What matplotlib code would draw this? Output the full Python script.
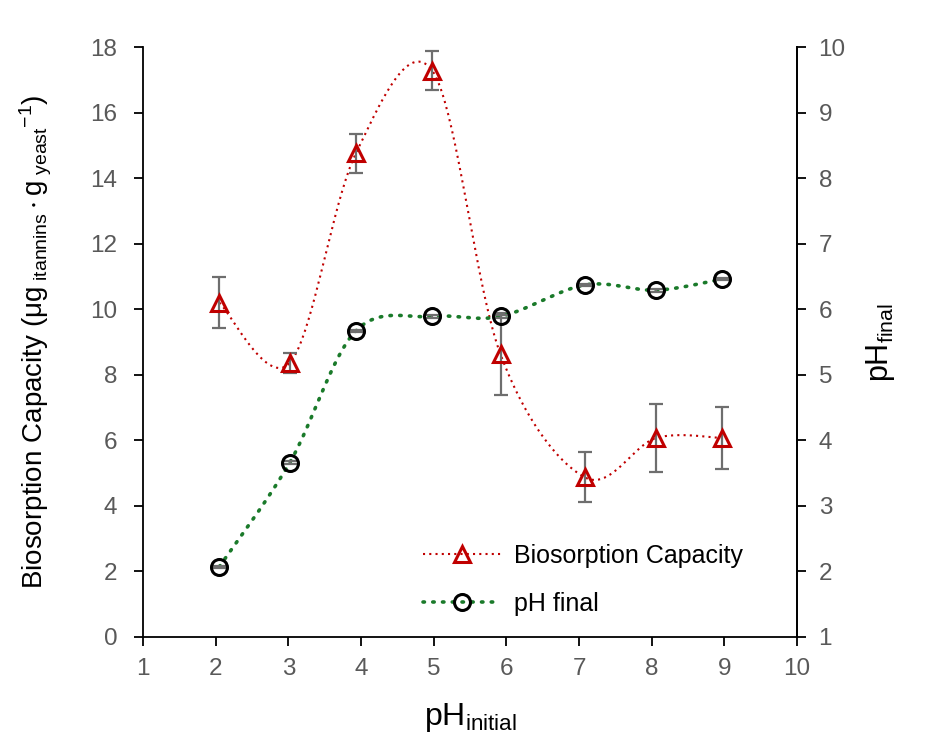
import numpy as np
import matplotlib
matplotlib.use("Agg")
import matplotlib.pyplot as plt
from matplotlib.lines import Line2D

plt.rcParams['font.family'] = ['Liberation Sans', 'DejaVu Sans']
plt.rcParams['mathtext.fontset'] = 'custom'
plt.rcParams['mathtext.rm'] = 'Liberation Sans'
plt.rcParams['mathtext.it'] = 'Liberation Sans'

# data
ph_initial = [2.05, 3.02, 3.93, 4.98, 5.92, 7.08, 8.06, 8.97]
biosorption = [10.2, 8.36, 14.76, 17.28, 8.62, 4.87, 6.07, 6.07]
biosorption_err = [0.77, 0.3, 0.6, 0.6, 1.25, 0.76, 1.05, 0.96]
ph_final = [2.07, 3.66, 5.67, 5.89, 5.89, 6.37, 6.29, 6.46]
ph_final_err = [0.02, 0.02, 0.02, 0.02, 0.02, 0.02, 0.02, 0.02]

red = '#C00000'
green = '#1A7A2A'
grey = '#6E6E6E'
tick_grey = '#595959'


# smooth line like the spreadsheet one (Catmull-Rom as Bezier segments)
def smooth(xs, ys, n=40):
    p = np.column_stack([xs, ys]).astype(float)
    p = np.vstack([p[0], p, p[-1]])
    out = []
    t = np.linspace(0, 1, n)[:, None]
    for i in range(1, len(p) - 2):
        p0, p3 = p[i], p[i + 1]
        b1 = p0 + (p[i + 1] - p[i - 1]) / 6
        b2 = p3 - (p[i + 2] - p[i]) / 6
        seg = ((1 - t) ** 3 * p0 + 3 * (1 - t) ** 2 * t * b1
               + 3 * (1 - t) * t ** 2 * b2 + t ** 3 * p3)
        out.append(seg if i == 1 else seg[1:])
    out = np.vstack(out)
    return out[:, 0], out[:, 1]


fig = plt.figure(figsize=(9.32, 7.38), dpi=100)
ax = fig.add_axes([0.1534, 0.1369, 0.7018, 0.7994])
ax2 = ax.twinx()

red_ls = (0, (1, 2))
green_ls = (0, (0.4, 2.3))
tri_ms, circ_ms, mew = 12, 11.5, 2.2

sx, sy = smooth(ph_initial, biosorption)
ax.plot(sx, sy, color=red, lw=1.5, ls=red_ls, zorder=2)
ax.errorbar(ph_initial, biosorption, yerr=biosorption_err, fmt='none',
            ecolor=grey, elinewidth=1.6, capsize=4.8, capthick=1.6, zorder=3)
ax.plot(ph_initial, biosorption, ls='none', marker='^', ms=tri_ms,
        mfc='none', mec=red, mew=mew, zorder=4)

gx, gy = smooth(ph_initial, ph_final)
ax2.plot(gx, gy, color=green, lw=2.6, ls=green_ls,
         dash_capstyle='round', zorder=2)
ax2.errorbar(ph_initial, ph_final, yerr=ph_final_err, fmt='none',
             ecolor=grey, elinewidth=1.6, capsize=4.8, capthick=1.6, zorder=3)
ax2.plot(ph_initial, ph_final, ls='none', marker='o', ms=circ_ms,
         mfc='none', mec='black', mew=mew, zorder=4)

ax.set_xlim(1, 10)
ax.set_ylim(0, 18)
ax2.set_ylim(1, 10)
ax.set_xticks(range(1, 11))
ax.set_yticks(range(0, 19, 2))
ax2.set_yticks(range(1, 11))

for a in (ax, ax2):
    a.spines['top'].set_visible(False)
    for s in a.spines.values():
        s.set_linewidth(1.3)
    a.tick_params(direction='out', length=6.5, width=1.3,
                  labelsize=17.5, labelcolor=tick_grey, pad=12)
ax.tick_params(axis='x', pad=9)
ax2.tick_params(axis='y', pad=9)
ax2.spines['left'].set_visible(False)
ax2.spines['bottom'].set_visible(False)

ax.set_xlabel(r'pH$_{\mathregular{initial}}$', fontsize=23, labelpad=15)
ax.set_ylabel(r'Biosorption Capacity ($\mathregular{\mu g_{\ itannins}\cdot g_{\ yeast}{}^{-1}}$)',
              fontsize=20, labelpad=26)
ax2.set_ylabel(r'pH$_{\mathregular{final}}$', fontsize=22, labelpad=13)

handles = [
    Line2D([], [], color=red, lw=1.5, ls=red_ls, marker='^', ms=tri_ms,
           mfc='none', mec=red, mew=mew),
    Line2D([], [], color=green, lw=2.6, ls=green_ls, dash_capstyle='round',
           marker='o', ms=circ_ms, mfc='none', mec='black', mew=mew),
]
fig.legend(handles, ['Biosorption Capacity', 'pH final'],
           loc='center left', bbox_to_anchor=(0.4539, 0.214),
           frameon=False, fontsize=18, handlelength=3.1, handletextpad=0.52,
           labelspacing=0.95, borderpad=0, borderaxespad=0)

fig.savefig('out.png', dpi=100)
